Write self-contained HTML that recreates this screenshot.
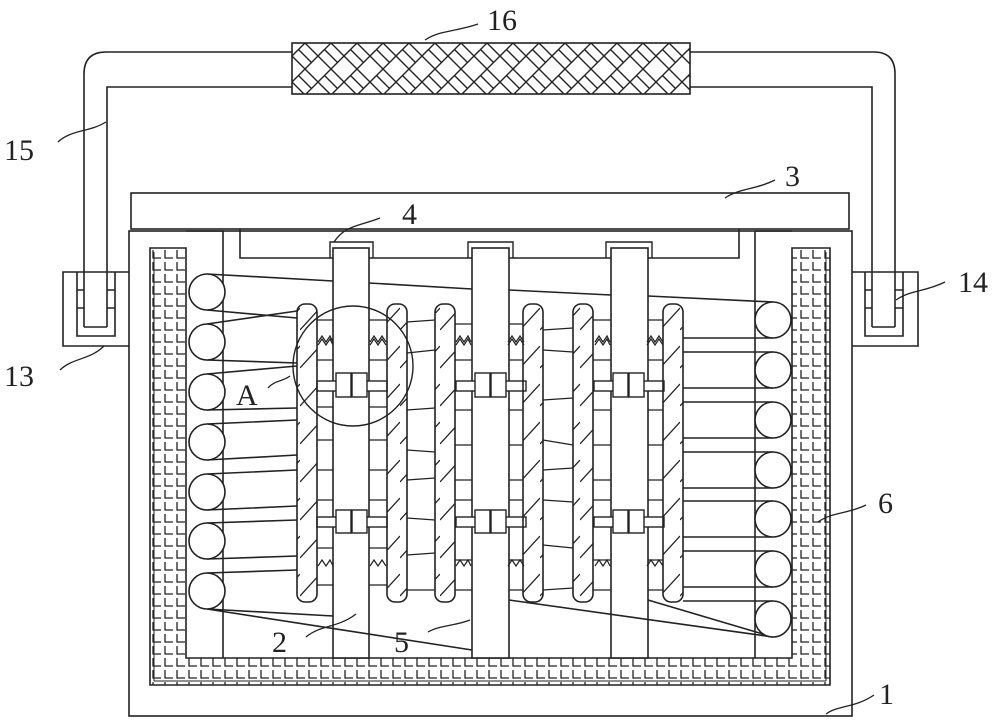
<!DOCTYPE html>
<html><head><meta charset="utf-8"><style>html,body{margin:0;padding:0;background:#fff}svg{display:block}</style></head><body>
<svg width="1000" height="722" viewBox="0 0 1000 722" xmlns="http://www.w3.org/2000/svg">
<defs>
<pattern id="brick" x="150" y="248" width="12" height="12" patternUnits="userSpaceOnUse">
<path d="M3 2 V10 H11" fill="none" stroke="#222" stroke-width="1.3"/>
</pattern>
<pattern id="weave" x="292" y="43" width="26" height="26" patternUnits="userSpaceOnUse">
<path d="M0 13 L13 0 M13 26 L26 13 M0 13 L13 26 M13 0 L26 13 M6.5 6.5 L19.5 19.5" fill="none" stroke="#222" stroke-width="1.4"/>
</pattern>
<pattern id="hatch" width="20" height="38" patternUnits="userSpaceOnUse" patternTransform="translate(0,300)">
<path d="M0 30 L20 8" stroke="#222" stroke-width="1.3"/>
</pattern>
</defs>
<g fill="none" stroke="#222" stroke-width="1.6">
<!-- handle -->
<path d="M84 327 V74 Q84 52 106 52 H292"/>
<path d="M107 327 V87 H292"/>
<path d="M690 52 H874 Q895 52 895 74 V327"/>
<path d="M690 87 H872 V327"/>
<path d="M84 327 H107 M872 327 H895"/>
<rect x="292" y="43" width="398" height="51" fill="url(#weave)"/>
<!-- brackets -->
<path d="M129 272 H63 V346 H129"/>
<path d="M77 272 V336 H115 V272"/>
<path d="M77 290 H84 M77 308 H84 M107 290 H115 M107 308 H115"/>
<path d="M852 272 H918 V346 H852"/>
<path d="M865 272 V336 H903 V272"/>
<path d="M865 290 H872 M865 308 H872 M895 290 H903 M895 308 H903"/>
<!-- plate 3 and 4 -->
<rect x="131" y="193" width="718" height="36"/>
<path d="M240 229 V258 H739 V229"/>
<!-- box -->
<rect x="129" y="231" width="723" height="485"/>
<path d="M150 685 V248 H186 V658 H792 V248 H830 V685 Z" fill="url(#brick)"/>
<path d="M154 681 V252 M826 252 V681 M154 681 H826" stroke-width="1"/>
<!-- side posts -->
<path d="M186 231 H223 V658 M755 231 V658 M755 231 H792"/>
<!-- rods -->
<path d="M330 258 V242 H373 V258 M468 258 V242 H513 V258 M606 258 V242 H652 V258" stroke-width="1.4"/>
<rect x="333" y="248" width="36" height="410" fill="#fff"/>
<rect x="472" y="248" width="37" height="410" fill="#fff"/>
<rect x="611" y="248" width="37" height="410" fill="#fff"/>
<!-- straps left -->
<path d="M207 274 L333 281 M207 310 L297 318 M207 324 L297 311 M207 360 L297 363 M207 374 L297 366 M207 410 L297 408 M207 424 L297 420 M207 460 L297 455 M207 474 L297 470 M207 510 L297 506 M207 523 L297 520 M207 559 L297 556 M207 573 L297 570 M207 609 L333 616 M207 609 L472 650"/>
<path d="M369 283 L472 289 M509 290 L611 295 M648 296 L773 302"/>
<path d="M683 338 L773 338 M683 352 L773 352 M683 388 L773 388 M683 402 L773 402 M683 438 L773 438 M683 452 L773 452 M683 488 L773 488 M683 501 L773 501 M683 537 L773 537 M683 551 L773 551 M683 587 L773 587 M683 601 L773 601 M509 600 L773 637 M648 600 L773 637"/>
<!-- rungs -->
<path d="M317 320 H333 M317 360 H333 M317 407 H333 M317 440 H333 M317 470 H333 M317 500 H333 M317 548 H333 M317 585 H333
M369 320 H387 M369 360 H387 M369 407 H387 M369 440 H387 M369 470 H387 M369 500 H387 M369 548 H387 M369 585 H387
M407 322 L435 320 M407 353 L435 350 M407 410 L435 408 M407 450 L435 452 M407 480 L435 478 M407 518 L435 520 M407 555 L435 553 M407 590 L435 590
M455 324 H472 M455 360 H472 M455 410 H472 M455 445 H472 M455 480 H472 M455 500 H472 M455 560 H472 M455 590 H472
M509 324 H523 M509 360 H523 M509 410 H523 M509 445 H523 M509 480 H523 M509 500 H523 M509 560 H523 M509 590 H523
M543 330 L573 328 M543 350 L573 352 M543 400 L573 398 M543 440 L573 445 M543 470 L573 468 M543 500 L573 502 M543 545 L573 548 M543 590 L573 588
M593 320 H611 M593 360 H611 M593 410 H611 M593 445 H611 M593 480 H611 M593 500 H611 M593 560 H611 M593 590 H611
M648 320 H663 M648 360 H663 M648 410 H663 M648 445 H663 M648 480 H663 M648 500 H663 M648 560 H663 M648 590 H663" stroke-width="1.2"/>
<!-- couplers -->
<g id="cp" stroke-width="1.4">
<rect x="317" y="381" width="70" height="10" fill="#fff"/>
<rect x="336" y="373" width="15" height="24" fill="#fff"/>
<rect x="352" y="373" width="15" height="24" fill="#fff"/>
<rect x="317" y="517" width="70" height="10" fill="#fff"/>
<rect x="336" y="510" width="15" height="23" fill="#fff"/>
<rect x="352" y="510" width="15" height="23" fill="#fff"/>
</g>
<use href="#cp" x="139"/>
<use href="#cp" x="277"/>
<!-- zigzags -->
<g stroke-width="1.2" id="zz">
<path d="M318 342 L322 336 L326 342 L330 336 L333 342 M318 345 L322 339 L326 345 L330 339 L333 345"/>
<path d="M370 342 L374 336 L378 342 L382 336 L386 342 M370 345 L374 339 L378 345 L382 339 L386 345"/>
<path d="M318 566 L322 560 L326 566 L330 560 L333 566 M370 566 L374 560 L378 566 L382 560 L386 566"/>
</g>
<use href="#zz" x="138"/>
<use href="#zz" x="277"/>
<!-- plates -->
<g stroke-width="1.6">
<rect x="297" y="304" width="20" height="298" rx="8" fill="url(#hatch)"/>
<rect x="387" y="304" width="20" height="298" rx="8" fill="url(#hatch)"/>
<rect x="435" y="304" width="20" height="298" rx="8" fill="url(#hatch)"/>
<rect x="523" y="304" width="20" height="298" rx="8" fill="url(#hatch)"/>
<rect x="573" y="304" width="20" height="298" rx="8" fill="url(#hatch)"/>
<rect x="663" y="304" width="20" height="298" rx="8" fill="url(#hatch)"/>
</g>
<!-- circles -->
<g fill="#fff">
<circle cx="207" cy="292" r="18"/><circle cx="207" cy="342" r="18"/><circle cx="207" cy="392" r="18"/><circle cx="207" cy="442" r="18"/><circle cx="207" cy="492" r="18"/><circle cx="207" cy="541" r="18"/><circle cx="207" cy="591" r="18"/>
<circle cx="773" cy="320" r="18"/><circle cx="773" cy="370" r="18"/><circle cx="773" cy="420" r="18"/><circle cx="773" cy="470" r="18"/><circle cx="773" cy="519" r="18"/><circle cx="773" cy="569" r="18"/><circle cx="773" cy="619" r="18"/>
</g>
<circle cx="353" cy="366" r="60" stroke-width="1.4"/>
<!-- leaders -->
<g stroke-width="1.3">
<path d="M425 40 C440 30 455 32 478 24"/>
<path d="M58 142 C70 130 90 132 106 122"/>
<path d="M725 198 C740 188 755 190 775 180"/>
<path d="M334 242 C345 225 360 226 380 218"/>
<path d="M896 300 C910 290 925 292 945 282"/>
<path d="M60 370 C72 358 90 360 104 346"/>
<path d="M268 388 C275 380 282 382 290 376"/>
<path d="M818 522 C832 512 848 514 866 505"/>
<path d="M306 637 C320 625 338 628 356 614"/>
<path d="M428 632 C440 625 455 626 470 620"/>
<path d="M826 714 C838 705 855 708 874 695"/>
</g>
</g>
<g font-family="'Liberation Serif', serif" font-size="30" fill="#222">
<text x="487" y="30">16</text>
<text x="4" y="160">15</text>
<text x="785" y="186">3</text>
<text x="402" y="224">4</text>
<text x="958" y="292">14</text>
<text x="4" y="386">13</text>
<text x="236" y="405">A</text>
<text x="878" y="513">6</text>
<text x="272" y="652">2</text>
<text x="394" y="652">5</text>
<text x="879" y="704">1</text>
</g>
</svg>
</body></html>
